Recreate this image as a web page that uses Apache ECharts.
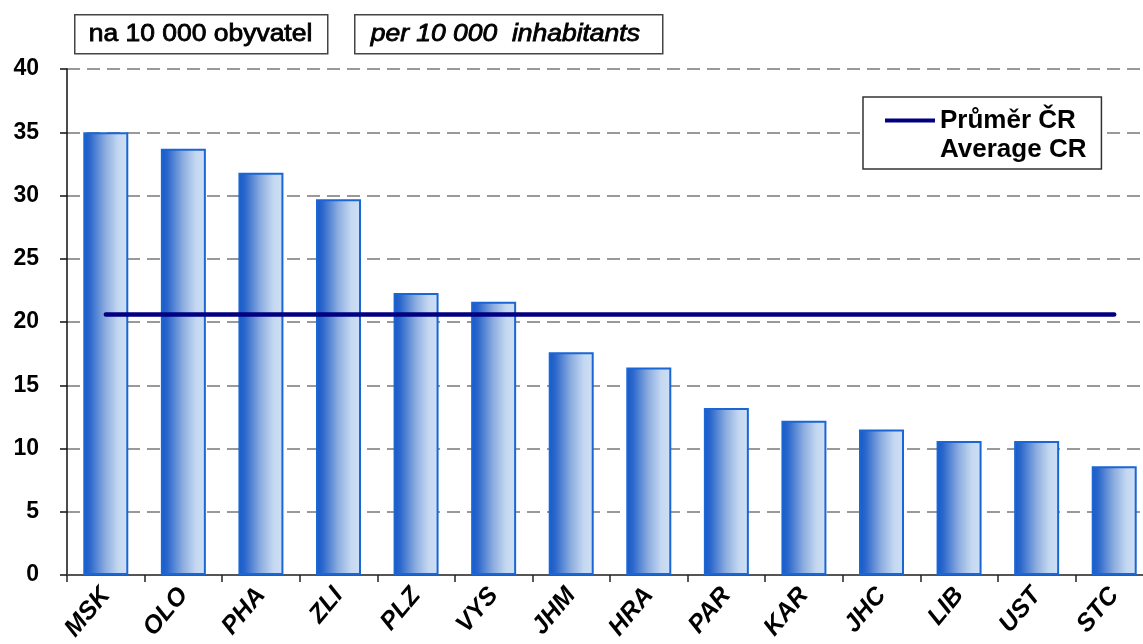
<!DOCTYPE html>
<html>
<head>
<meta charset="utf-8">
<script src="https://cdn.jsdelivr.net/npm/echarts@6/dist/echarts.min.js"></script>
<style>
html,body{margin:0;padding:0;background:#fff;}
#chart{width:1143px;height:644px;}
</style>
</head>
<body>
<div id="chart"></div>
<script>
var categories = ['MSK','OLO','PHA','ZLI','PLZ','VYS','JHM','HRA','PAR','KAR','JHC','LIB','UST','STC'];
var values = [35.0, 33.7, 31.8, 29.7, 22.3, 21.6, 17.6, 16.4, 13.2, 12.2, 11.5, 10.6, 10.6, 8.6];
var average = [20.6, 20.6, 20.6, 20.6, 20.6, 20.6, 20.6, 20.6, 20.6, 20.6, 20.6, 20.6, 20.6, 20.6];
var yTicks = {min: 0, max: 40, interval: 5};
var avgNameCz = 'Průměr ČR';
var avgNameEn = 'Average CR';
var unitCz = 'na 10 000 obyvatel';
var unitEn = 'per 10 000  inhabitants';

var chart = echarts.init(document.getElementById('chart'), null, {renderer: 'canvas'});
var font = "'Liberation Sans', Arial, sans-serif";

var option = {
  animation: false,
  backgroundColor: '#ffffff',
  grid: {left: 67, width: 1086, top: 69, bottom: 69, containLabel: false, outerBoundsMode: 'none'},
  graphic: [
    {type: 'group', left: 74, top: 14, children: [
      {type: 'rect', shape: {x: 0, y: 0, width: 253, height: 39}, style: {fill: '#fff', stroke: '#444', lineWidth: 1.5}},
      {type: 'text', x: 14, y: 20, scaleX: 1.15, style: {text: unitCz, font: '23px ' + font, fill: '#000', verticalAlign: 'middle', stroke: '#000', lineWidth: 0.8}}
    ]},
    {type: 'group', left: 354, top: 14, children: [
      {type: 'rect', shape: {x: 0, y: 0, width: 308, height: 39}, style: {fill: '#fff', stroke: '#444', lineWidth: 1.5}},
      {type: 'text', x: 16, y: 20, scaleX: 1.15, style: {text: unitEn, font: 'italic 23px ' + font, fill: '#000', verticalAlign: 'middle', stroke: '#000', lineWidth: 0.8}}
    ]}
  ],
  legend: {
    orient: 'vertical',
    left: 863, top: 97,
    padding: [9, 15, 5, 22],
    borderColor: '#333', borderWidth: 1.5, backgroundColor: '#fff',
    itemWidth: 50, itemHeight: 4, itemGap: 0,
    selectedMode: false,
    textStyle: {fontFamily: font, fontWeight: 'bold', fontSize: 26, color: '#000', lineHeight: 29},
    data: [{name: avgNameCz, icon: 'rect'}, {name: avgNameEn, icon: 'none'}]
  },
  xAxis: {
    type: 'category',
    data: categories,
    axisLine: {lineStyle: {color: '#555', width: 2}},
    axisTick: {show: true, length: 7, lineStyle: {color: '#222', width: 1.5}},
    axisLabel: {
      rotate: 50, margin: 16, interval: 0,
      fontFamily: font, fontWeight: 'bold', fontStyle: 'italic', fontSize: 25, color: '#000'
    }
  },
  yAxis: {
    type: 'value',
    min: yTicks.min, max: yTicks.max, interval: yTicks.interval,
    axisLine: {show: true, lineStyle: {color: '#111', width: 1.5}},
    axisTick: {show: true, length: 7, lineStyle: {color: '#111', width: 1.5}},
    axisLabel: {margin: 28, fontFamily: font, fontWeight: 'bold', fontSize: 23, color: '#000'},
    splitLine: {lineStyle: {color: '#999', width: 2, type: [13, 7]}}
  },
  series: [
    {
      type: 'bar',
      name: 'values',
      data: values,
      barCategoryGap: '42%',
      itemStyle: {
        borderColor: '#1a66d4', borderWidth: 2,
        color: {type: 'linear', x: 0, y: 0, x2: 1, y2: 0, colorStops: [
          {offset: 0, color: '#1558c8'},
          {offset: 0.15, color: '#2c68cc'},
          {offset: 0.5, color: '#8eaee0'},
          {offset: 0.78, color: '#c4d8f1'},
          {offset: 1, color: '#cfe0f5'}
        ]}
      }
    },
    {
      type: 'line',
      name: avgNameCz,
      data: average,
      symbol: 'none',
      itemStyle: {color: '#000080'},
      lineStyle: {color: '#000080', width: 4.5, cap: 'round'},
      z: 5
    },
    {
      type: 'line',
      name: avgNameEn,
      data: [],
      symbol: 'none',
      itemStyle: {color: '#ffffff'},
      lineStyle: {width: 0}
    }
  ]
};
chart.setOption(option);
</script>
</body>
</html>
